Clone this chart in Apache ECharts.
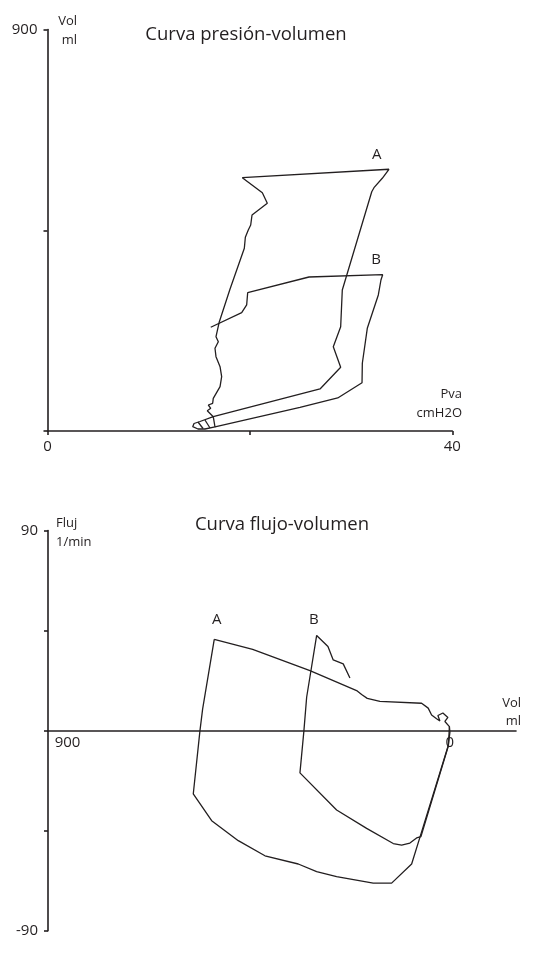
<!DOCTYPE html>
<html>
<head>
<meta charset="utf-8">
<script src="https://cdn.jsdelivr.net/npm/echarts@6/dist/echarts.min.js"></script>
<style>
html,body{margin:0;padding:0;background:#ffffff;}
#chart{width:534px;height:962px;}
</style>
</head>
<body>
<div id="chart"></div>
<script>
// ---------- Texts ----------
const pvTitle = 'Curva presión-volumen';
const fvTitle = 'Curva flujo-volumen';
const pvYName = 'Vol\nml';
const pvXName = 'Pva\ncmH2O';
const fvYName = 'Fluj\n1/min';
const fvXName = 'Vol\nml';

// ---------- Axis ticks / labels ----------
const pvXTicks = [0, 20, 40];
const pvXLabels = ['0', '', '40'];
const pvYTicks = [0, 450, 900];
const pvYLabels = ['', '', '900'];
const fvXLabelValues = [900, 0];
const fvYTicks = [-90, -45, 0, 45, 90];
const fvYLabels = ['-90', '', '', '', '90'];

// ---------- Pressure-volume loops [Pva cmH2O, Vol ml] ----------
const pvLoopA = [
  [16.38,32.1],[15.79,45.5],[16.13,50.9],[15.89,58.3],[16.32,62.1],[16.38,73.3],
  [17.05,99.3],[17.21,121.7],[17.05,144.1],[16.65,166.6],[16.55,185.4],[16.88,200.2],
  [16.65,211.4],[16.98,245.0],[18.03,317.6],[19.45,409.6],[19.55,434.2],[19.84,450.6],
  [20.08,461.8],[20.21,484.2],[21.72,510.4],[21.23,534.2],[19.25,567.8],[33.74,586.7],
  [33.08,566.5],[32.26,545.4],[32.04,536.4],[29.13,316.1],[28.97,233.8],[28.24,189.0],
  [28.97,142.8],[26.93,94.2],[16.38,32.1],[15.07,21.3],[14.48,16.8],[14.35,9.6],
  [14.87,4.5],[15.56,4.5],[16.55,9.0],[16.38,32.1]
];
const pvLoopB = [
  [16.13,232.5],[19.19,265.2],[19.68,282.5],[19.78,310.0],[25.84,345.2],[33.12,350.4],
  [32.95,338.5],[32.69,304.9],[31.60,230.2],[31.11,151.8],[31.08,108.3],[28.68,74.0],
  [24.95,53.1],[16.55,9.0]
];
const pvHatch1 = [[14.87,20.2],[15.37,5.6]];
const pvHatch2 = [[15.56,24.7],[16.06,6.7]];
const pvLabels = [['A',32.53,618.7],['B',32.46,384.9]];

// ---------- Flow-volume loops [Vol ml, Flujo l/min] ----------
const fvLoopA = [
  [527.7,41.0],[441.7,36.5],[313.4,27.0],[208.9,18.0],[197.7,16.2],[185.1,14.5],
  [156.7,13.1],[63.4,12.3],[48.6,10.1],[41.0,7.0],[29.8,5.3],[22.4,4.3],[26.9,6.8],
  [15.7,7.9],[4.5,5.9],[11.2,4.1],[1.1,1.8],[0,-0.8],[3.8,-6.8],[67.2,-48.0],
  [85.7,-60.0],[130.5,-68.6],[171.7,-68.6],[253.7,-65.7],[298.4,-63.4],[339.6,-60.0],
  [414.2,-56.3],[473.9,-49.5],[533.5,-40.5],[574.7,-28.5],[559.7,0],[553.7,9.8],[527.7,41.0]
];
const fvLoopB = [
  [223.9,23.7],[238.9,30.0],[261.3,31.8],[273.1,37.8],[298.4,42.8],[320.8,15.0],
  [326.9,0],[335.8,-19.0],[253.7,-35.7],[186.5,-44.0],[126.9,-50.8],[108.1,-51.5],
  [89.6,-50.6],[74.6,-48.3],[64.9,-47.7],[3.4,-6.8],[1.1,1.8]
];
const fvLabels = [['A',522.3,49.8],['B',304.5,49.8]];

// ---------- Styling ----------
const INK = '#231f20';
const FONT = '"Open Sans", "Noto Sans", sans-serif';

function lineSeries(data, xi) {
  return {
    type: 'line', xAxisIndex: xi, yAxisIndex: xi, data: data,
    showSymbol: false, symbol: 'none', silent: true, animation: false,
    lineStyle: { color: INK, width: 1.3 }, z: 3
  };
}
function labelSeries(items, xi) {
  return {
    type: 'scatter', xAxisIndex: xi, yAxisIndex: xi, silent: true, animation: false,
    symbolSize: 0, itemStyle: { color: INK, opacity: 1 },
    data: items.map(d => ({ name: d[0], value: [d[1], d[2]] })),
    label: { show: true, formatter: '{b}', position: 'inside', color: INK,
             fontSize: 15, fontFamily: FONT, textBorderWidth: 0, opacity: 1 }
  };
}
function txt(text, x, y, align, size, lh) {
  return {
    type: 'text', x: x, y: y, silent: true,
    style: {
      text: text, fill: INK, font: size + 'px ' + FONT,
      textAlign: align, align: align, textVerticalAlign: 'middle', verticalAlign: 'middle',
      lineHeight: lh || size * 1.3
    }
  };
}

const axisLineStyle = { color: INK, width: 1.6 };

// bottom grid geometry: zero flow lies in the middle of the -90..90 range
const fvGridTop = 530.5, fvGridBottom = 31.3, chartH = 962;
const fvGridHeight = chartH - fvGridTop - fvGridBottom;

const option = {
  backgroundColor: '#ffffff',
  animation: false,
  grid: [
    { left: 47.5, right: 81.7, top: 29.5, bottom: 531 },
    { left: 48, right: 18, top: fvGridTop, bottom: fvGridBottom }
  ],
  xAxis: [
    {
      type: 'value', gridIndex: 0, min: pvXTicks[0], max: pvXTicks[pvXTicks.length - 1],
      interval: pvXTicks[1] - pvXTicks[0],
      axisLine: { show: true, onZero: false, lineStyle: axisLineStyle },
      axisTick: { show: true, length: 4, lineStyle: axisLineStyle },
      axisLabel: { margin: 8, color: INK, fontSize: 15, fontFamily: FONT,
        formatter: v => pvXLabels[pvXTicks.indexOf(v)] || '' },
      splitLine: { show: false }
    },
    {
      type: 'value', gridIndex: 1, min: -148, max: 900, inverse: true,
      position: 'bottom', offset: -fvGridHeight / 2,
      axisLine: { show: true, onZero: false, lineStyle: axisLineStyle },
      axisTick: { show: false },
      axisLabel: { show: true, customValues: fvXLabelValues, margin: 5, color: INK,
        fontSize: 15, fontFamily: FONT, align: 'center',
        formatter: v => v === 900 ? '{a|900}' : '{b|' + v + '}',
        rich: { a: { fontSize: 15, fontFamily: FONT, color: INK, padding: [0, 0, 0, 39] },
                b: { fontSize: 15, fontFamily: FONT, color: INK } } },
      splitLine: { show: false }
    }
  ],
  yAxis: [
    {
      type: 'value', gridIndex: 0, min: pvYTicks[0], max: pvYTicks[pvYTicks.length - 1],
      interval: pvYTicks[1] - pvYTicks[0],
      axisLine: { show: true, onZero: false, lineStyle: axisLineStyle },
      axisTick: { show: true, length: 4, lineStyle: axisLineStyle },
      axisLabel: { margin: 10, color: INK, fontSize: 15, fontFamily: FONT,
        formatter: v => pvYLabels[pvYTicks.indexOf(v)] || '' },
      splitLine: { show: false }
    },
    {
      type: 'value', gridIndex: 1, min: fvYTicks[0], max: fvYTicks[fvYTicks.length - 1],
      interval: fvYTicks[1] - fvYTicks[0],
      axisLine: { show: true, onZero: false, lineStyle: axisLineStyle },
      axisTick: { show: true, length: 4, lineStyle: axisLineStyle },
      axisLabel: { margin: 10, color: INK, fontSize: 15, fontFamily: FONT,
        formatter: v => fvYLabels[fvYTicks.indexOf(v)] || '' },
      splitLine: { show: false }
    }
  ],
  graphic: [
    txt(pvTitle, 246, 35, 'center', 18.5),
    txt(fvTitle, 282, 525, 'center', 18.5),
    txt(pvYName, 77, 31, 'right', 13, 18.5),
    txt(pvXName, 462, 404, 'right', 13, 18.5),
    txt(fvYName, 56, 533, 'left', 13, 19),
    txt(fvXName, 521, 712.5, 'right', 13, 18.5)
  ],
  series: [
    lineSeries(pvLoopA, 0),
    lineSeries(pvLoopB, 0),
    lineSeries(pvHatch1, 0),
    lineSeries(pvHatch2, 0),
    labelSeries(pvLabels, 0),
    lineSeries(fvLoopA, 1),
    lineSeries(fvLoopB, 1),
    labelSeries(fvLabels, 1)
  ]
};

const chart = echarts.init(document.getElementById('chart'), null, { renderer: 'canvas' });
chart.setOption(option);
</script>
</body>
</html>
